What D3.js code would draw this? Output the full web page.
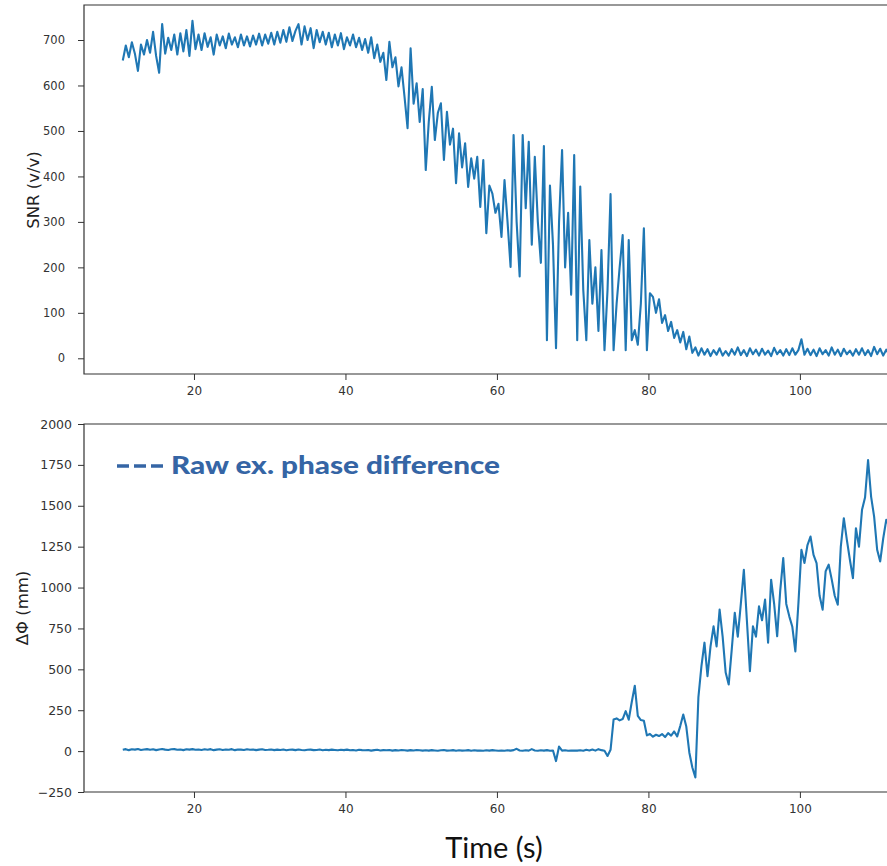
<!DOCTYPE html>
<html>
<head>
<meta charset="utf-8">
<script src="https://cdn.jsdelivr.net/npm/d3@7"></script>
<style>
  body { margin: 0; background: #fff; }
  svg { display: block; }
  .tick text { font-family: "DejaVu Sans", sans-serif; fill: #333; }
  .tick line { stroke: #333; }
</style>
</head>
<body>
<svg id="chart" width="887" height="866"></svg>
<script>
// sample times: start + i * step (seconds)
var tStart = 10.6;
var tStep = 0.4;

// SNR (v/v)
var snrValues = [
  655,688,662,695,670,632,690,668,700,672,718,665,628,735,670,705,678,712,668,715,675,722,665,742,680,
  712,678,715,685,706,668,712,688,708,682,714,690,706,684,712,688,708,686,710,690,714,688,712,692,716,
  690,718,694,722,696,728,698,720,735,690,730,700,726,682,722,695,718,690,716,684,712,688,715,680,706,
  688,712,684,705,678,702,672,706,660,690,652,672,612,696,640,662,598,640,575,506,682,560,605,520,592,
  414,520,597,480,540,561,436,542,470,505,385,495,420,473,377,440,395,443,333,436,275,380,362,320,340,
  267,392,300,201,491,300,180,491,330,476,250,443,300,210,467,40,380,250,22,300,458,200,320,140,447,
  40,378,150,40,260,120,200,60,238,18,150,361,18,120,200,271,18,260,40,62,30,120,286,18,143,
  135,100,130,78,95,60,80,45,62,35,58,20,48,12,24,6,22,8,20,5,18,8,22,6,16,
  6,20,8,24,7,18,5,22,9,19,6,21,8,17,5,23,9,18,6,20,7,22,8,18,42,
  8,21,7,19,5,22,9,18,6,24,8,19,5,21,9,17,6,20,8,22,7,18,5,25,9,21,6,19,8,20
];

// phase difference (mm)
var phaseValues = [
  8,12,6,11,9,13,7,10,12,8,11,6,10,13,9,7,11,12,8,10,6,11,9,12,8,
  10,7,11,8,12,6,9,11,7,10,8,12,6,10,9,7,11,8,10,6,9,11,7,8,10,
  6,9,7,10,5,8,9,6,10,7,5,8,9,6,7,10,5,8,6,9,7,5,8,6,9,
  5,7,4,8,6,5,7,3,6,8,4,6,5,7,3,6,4,7,5,3,6,4,7,5,3,
  5,3,6,4,2,5,7,3,4,6,2,5,3,4,6,2,5,3,4,2,5,3,6,4,2,
  4,2,5,3,6,14,4,2,5,3,12,4,2,5,3,6,2,4,-61,28,3,5,2,4,3,
  3,5,2,8,4,10,3,12,6,2,-30,8,193,200,188,196,244,192,300,400,215,190,186,96,105,
  88,100,92,104,86,110,95,120,90,153,224,150,-8,-100,-161,330,519,663,458,640,763,640,865,700,480,
  407,620,846,700,900,1109,800,488,763,700,885,800,926,663,1048,900,702,980,1180,900,824,760,610,900,1231,
  1150,1260,1312,1200,1150,950,865,1100,1140,1050,950,895,1250,1424,1292,1170,1058,1363,1250,1475,1550,1780,1556,1434,1231,1160,1300,1414,1380,1444
];

var xTicks = [20, 40, 60, 80, 100];
var snrTicks = [0, 100, 200, 300, 400, 500, 600, 700];
var phaseTicks = [-250, 0, 250, 500, 750, 1000, 1250, 1500, 1750, 2000];

var svg = d3.select("#chart");
var left = 84, right = 887;

var x = d3.scaleLinear().domain([5.48, 111.5]).range([left, right]);

var ySnr = d3.scaleLinear().domain([-34.5, 777]).range([374, 5]);
var yPhase = d3.scaleLinear().domain([-250, 2000]).range([792, 424]);

function toPoints(values) {
  return values.map(function(v, i) { return [tStart + i * tStep, v]; });
}

svg.append("defs").append("clipPath").attr("id", "clipTop")
  .append("rect").attr("x", left).attr("y", 5).attr("width", right - left).attr("height", 369);
svg.select("defs").append("clipPath").attr("id", "clipBottom")
  .append("rect").attr("x", left).attr("y", 424).attr("width", right - left).attr("height", 368);

function drawPanel(y, values, ticks, top, bottom, clipId, tickSize, labelGap) {
  var line = d3.line()
    .x(function(d) { return x(d[0]); })
    .y(function(d) { return y(d[1]); });

  svg.append("path")
    .datum(toPoints(values))
    .attr("clip-path", "url(#" + clipId + ")")
    .attr("fill", "none")
    .attr("stroke", "#1f77b4")
    .attr("stroke-width", 2.1)
    .attr("stroke-linejoin", "round")
    .attr("d", line);

  // x axis
  var gx = svg.append("g")
    .attr("transform", "translate(0," + bottom + ")")
    .call(d3.axisBottom(x).tickValues(xTicks).tickSize(6).tickPadding(6).tickFormat(d3.format("d")));
  gx.select(".domain").remove();
  gx.selectAll("text").attr("font-size", 12);

  // y axis
  var gy = svg.append("g")
    .attr("transform", "translate(" + left + ",0)")
    .call(d3.axisLeft(y).tickValues(ticks).tickSize(6).tickPadding(labelGap)
      .tickFormat(function(d) { return d < 0 ? "\u2212" + Math.abs(d) : d; }));
  gy.select(".domain").remove();
  gy.selectAll("text").attr("font-size", tickSize);

  // spines: left, bottom, top (right one falls outside the picture)
  svg.append("path")
    .attr("d", "M" + right + "," + top + "H" + left + "V" + bottom + "H" + right)
    .attr("fill", "none")
    .attr("stroke", "#333")
    .attr("stroke-width", 1.2);
}

drawPanel(ySnr, snrValues, snrTicks, 5, 374, "clipTop", 11.5, 13);
drawPanel(yPhase, phaseValues, phaseTicks, 424, 792, "clipBottom", 12.5, 6);

// axis labels
svg.append("text")
  .attr("transform", "translate(39,190) rotate(-90)")
  .attr("text-anchor", "middle")
  .attr("font-family", "DejaVu Sans, sans-serif")
  .attr("font-size", 16.5)
  .attr("fill", "#222")
  .text("SNR (v/v)");

svg.append("text")
  .attr("transform", "translate(28,608) rotate(-90)")
  .attr("text-anchor", "middle")
  .attr("font-family", "DejaVu Sans, sans-serif")
  .attr("font-size", 16.5)
  .attr("fill", "#222")
  .text("\u0394\u03A6 (mm)");

svg.append("text")
  .attr("x", 494)
  .attr("y", 858)
  .attr("text-anchor", "middle")
  .attr("font-family", "Lato, sans-serif")
  .attr("font-size", 29)
  .attr("fill", "#111")
  .text("Time (s)");

// legend
svg.append("line")
  .attr("x1", 117).attr("x2", 163)
  .attr("y1", 466).attr("y2", 466)
  .attr("stroke", "#3565a5")
  .attr("stroke-width", 3.5)
  .attr("stroke-dasharray", "12,5");

svg.append("text")
  .attr("x", 171)
  .attr("y", 474)
  .attr("font-family", "Lato, sans-serif")
  .attr("font-weight", 900)
  .attr("font-size", 24)
  .attr("fill", "#3565a5")
  .attr("textLength", 329)
  .attr("lengthAdjust", "spacingAndGlyphs")
  .text("Raw ex. phase difference");
</script>
</body>
</html>
